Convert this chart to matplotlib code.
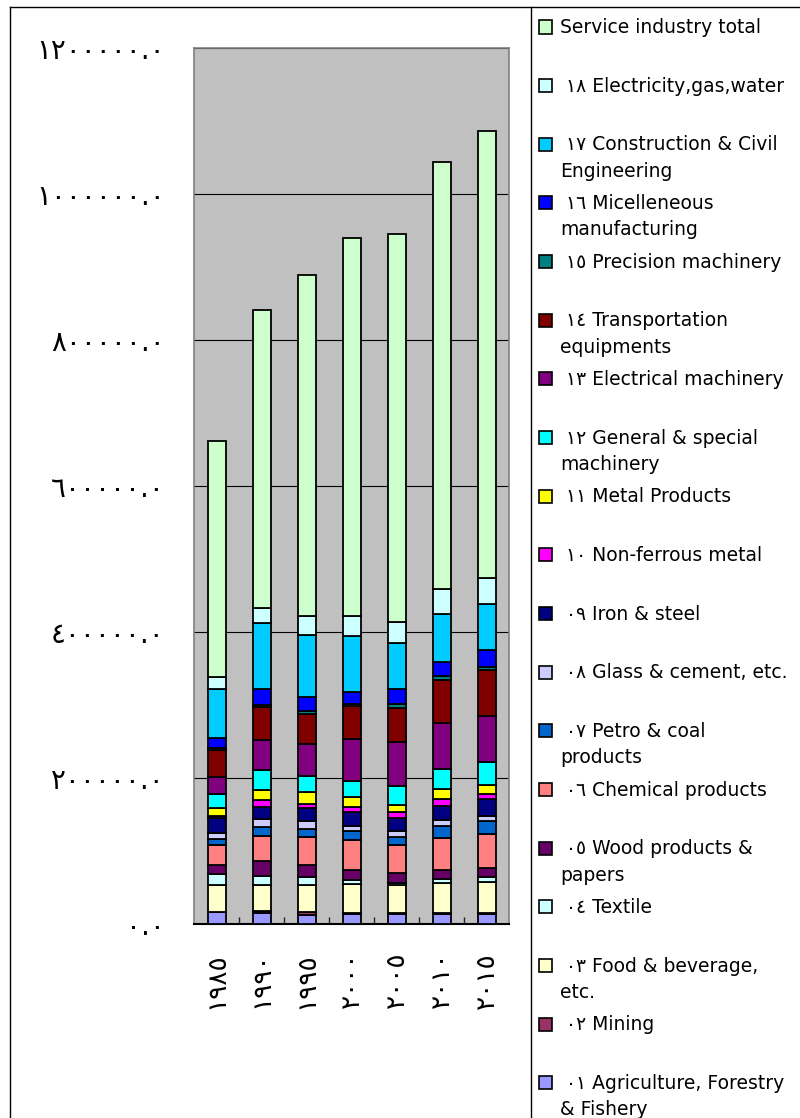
import matplotlib
matplotlib.use("Agg")
import matplotlib.pyplot as plt
from matplotlib.patches import Rectangle
from matplotlib.lines import Line2D

# years (Arabic-Indic digits as in the original sheet)
years = ["١٩٨٥", "١٩٩٠", "١٩٩٥", "٢٠٠٠", "٢٠٠٥", "٢٠١٠", "٢٠١٥"]

y_ticks = [0, 200000, 400000, 600000, 800000, 1000000, 1200000]
y_tick_labels = ["٠.٠", "٢٠٠٠٠٠.٠", "٤٠٠٠٠٠.٠", "٦٠٠٠٠٠.٠",
                 "٨٠٠٠٠٠.٠", "١٠٠٠٠٠٠.٠", "١٢٠٠٠٠٠.٠"]

# series, bottom of the stack first
agriculture = [16000, 14600, 12800, 13700, 13700, 13700, 13700]
mining = [1000, 3500, 3000, 1000, 1000, 1000, 1000]
food = [36500, 35500, 37800, 40100, 38700, 41000, 43300]
textile = [14600, 12800, 11400, 5900, 2300, 5900, 5900]
wood = [12800, 20000, 15900, 13700, 13700, 12800, 13200]
chemical = [27300, 34600, 38700, 40600, 38700, 43700, 46500]
petro = [8200, 11800, 10900, 11800, 11400, 16400, 16900]
glass = [7700, 11400, 10900, 7300, 8200, 8200, 7700]
iron = [20500, 16400, 16900, 20000, 16900, 19600, 22800]
nonferrous = [3200, 8700, 5500, 5900, 8200, 8700, 7700]
metal = [10500, 14100, 16900, 13700, 10500, 13700, 11800]
general_mach = [19100, 26900, 21400, 21900, 25100, 27300, 31900]
electrical = [24200, 41900, 44700, 57900, 60600, 63800, 62000]
transport = [37400, 45100, 41500, 44700, 47400, 58300, 63300]
precision = [2700, 3200, 3600, 3600, 5500, 5500, 4600]
misc = [13700, 21000, 19100, 15900, 19600, 19100, 22800]
construction = [66100, 91100, 85200, 77500, 63300, 66100, 63800]
electricity = [16900, 19600, 25500, 27300, 28700, 34200, 35500]
service = [323000, 408700, 467000, 516700, 532200, 585500, 612400]

labels = [
    " ٠١ Agriculture, Forestry\n& Fishery",
    " ٠٢ Mining",
    " ٠٣ Food & beverage,\netc.",
    " ٠٤ Textile",
    " ٠٥ Wood products &\npapers",
    " ٠٦ Chemical products",
    " ٠٧ Petro & coal\nproducts",
    " ٠٨ Glass & cement, etc.",
    " ٠٩ Iron & steel",
    " ١٠ Non-ferrous metal",
    " ١١ Metal Products",
    " ١٢ General & special\nmachinery",
    " ١٣ Electrical machinery",
    " ١٤ Transportation\nequipments",
    " ١٥ Precision machinery",
    " ١٦ Micelleneous\nmanufacturing",
    " ١٧ Construction & Civil\nEngineering",
    " ١٨ Electricity,gas,water",
    "Service industry total",
]
colors = ["#9999FF", "#993366", "#FFFFCC", "#CCFFFF", "#660066", "#FF8080",
          "#0066CC", "#CCCCFF", "#000080", "#FF00FF", "#FFFF00", "#00FFFF",
          "#800080", "#800000", "#008080", "#0000FF", "#00CCFF", "#CCFFFF",
          "#CCFFCC"]

series = [agriculture, mining, food, textile, wood, chemical, petro, glass,
          iron, nonferrous, metal, general_mach, electrical, transport,
          precision, misc, construction, electricity, service]

W, H = 800, 1118
fig = plt.figure(figsize=(W / 100, H / 100), dpi=100)
ax = fig.add_axes([194 / W, 1 - 924 / H, 315 / W, 876 / H])
ax.set_facecolor("#C0C0C0")

x = list(range(len(years)))
bottom = [0] * len(years)
for vals, col in zip(series, colors):
    ax.bar(x, vals, width=0.4, bottom=bottom, color=col,
           edgecolor="black", linewidth=1.3, zorder=3)
    bottom = [b + v for b, v in zip(bottom, vals)]

ax.set_xlim(-0.5, len(years) - 0.5)
ax.set_ylim(0, 1200000)
ax.set_yticks(y_ticks, y_tick_labels)
ax.set_xticks(x, years, rotation=90)
ax.set_xticks([i + 0.5 for i in x[:-1]], minor=True)
ax.tick_params(axis="y", length=0, pad=21, labelsize=20)
ax.tick_params(axis="x", which="major", length=0, pad=20, labelsize=19)
ax.tick_params(axis="x", which="minor", direction="in", length=5,
               width=1, color="#222222")
ax.yaxis.grid(True, color="black", linewidth=0.8, zorder=1)
ax.set_axisbelow(True)
for s in ["left", "top", "right"]:
    ax.spines[s].set_color("#808080")
    ax.spines[s].set_linewidth(1.2)
ax.spines["bottom"].set_color("black")
ax.spines["bottom"].set_linewidth(1.5)

# chart frame and legend box
def fig_line(xs, ys):
    fig.add_artist(Line2D([v / W for v in xs], [1 - v / H for v in ys],
                          color="black", linewidth=1))

fig_line([10, W], [7, 7])
fig_line([10, 10], [7, H])
fig_line([531, 531], [7, H])

# legend, top entry first
for i, idx in enumerate(range(len(labels) - 1, -1, -1)):
    cy = 27 + i * 58.66
    fig.add_artist(Rectangle((539 / W, 1 - (cy + 6.5) / H), 13 / W, 13 / H,
                             facecolor=colors[idx], edgecolor="black",
                             linewidth=1.2))
    fig.text(560 / W, 1 - (cy - 9) / H, labels[idx], ha="left", va="top",
             fontsize=13.5, linespacing=1.5)

plt.savefig("out.png", dpi=100)
